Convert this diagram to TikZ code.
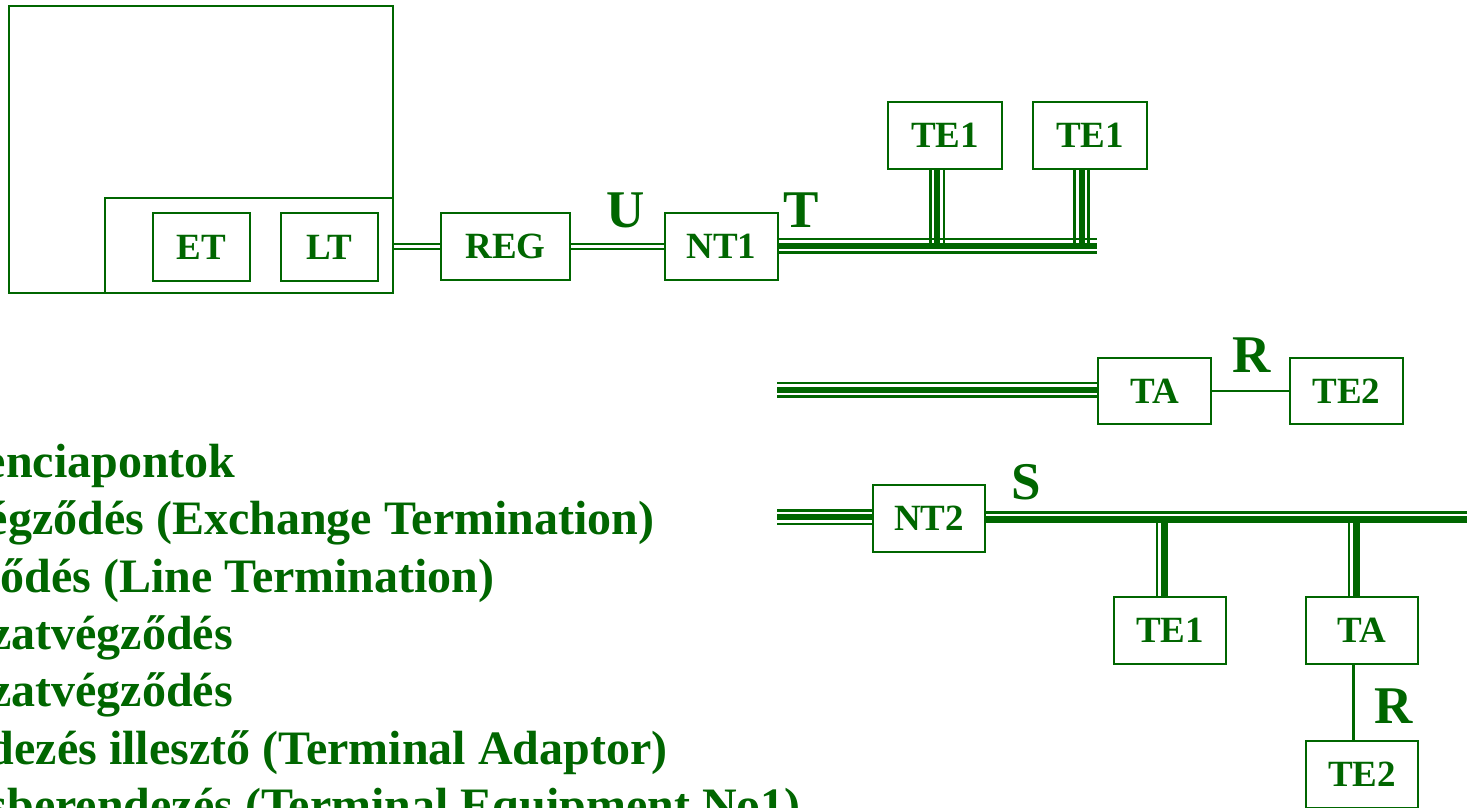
\documentclass[tikz,border=0pt]{standalone}
\usepackage{fontspec}
\setmainfont{Liberation Serif}
\definecolor{dg}{HTML}{006600}
\tikzset{
  box/.style={draw=dg, line width=2.9pt, inner sep=0pt, text=dg, font=\fontsize{37}{40}\selectfont\bfseries},
  frame/.style={draw=dg, line width=2.9pt, inner sep=0pt},
  big/.style={text=dg, inner sep=0pt, anchor=base, font=\fontsize{53}{56}\selectfont\bfseries},
  legend/.style={text=dg, inner sep=0pt, anchor=base east, font=\fontsize{48}{56}\selectfont\bfseries},
  thinl/.style={draw=dg, line width=2.7pt},
  thickl/.style={draw=dg, line width=6pt},
  fatl/.style={draw=dg, line width=7pt},
}
\newcommand\tripH[2]{%
  \draw[thinl] ([yshift=6.7pt]#1) -- ([yshift=6.7pt]#2);
  \draw[thickl] (#1) -- (#2);
  \draw[thinl] ([yshift=-6.7pt]#1) -- ([yshift=-6.7pt]#2);}
\newcommand\tripV[2]{%
  \draw[thinl] ([xshift=6.7pt]#1) -- ([xshift=6.7pt]#2);
  \draw[thickl] (#1) -- (#2);
  \draw[thinl] ([xshift=-6.7pt]#1) -- ([xshift=-6.7pt]#2);}
\begin{document}
\begin{tikzpicture}[x=1pt,y=-1pt]
\useasboundingbox (0,0) rectangle (1471,807);
\clip (0,0) rectangle (1471,807);

% exchange
\node[frame, minimum width=384pt, minimum height=287pt] (exch) at (201,149.5) {};
\node[frame, minimum width=288pt, minimum height=95pt] (inner) at (249,245.5) {};
\node[box, minimum width=97pt, minimum height=68pt] (ET) at (201.5,247) {ET};
\node[box, minimum width=97pt, minimum height=68pt] (LT) at (329.5,247) {LT};
\node[box, minimum width=129pt, minimum height=67pt] (REG) at (505.5,246.5) {REG};
\node[box, minimum width=113pt, minimum height=67pt] (NT1) at (721.5,246.5) {NT1};
\node[box, minimum width=114pt, minimum height=67pt] (TE1a) at (945,135.5) {TE1};
\node[box, minimum width=114pt, minimum height=67pt] (TE1b) at (1090,135.5) {TE1};
\node[box, minimum width=113pt, minimum height=66pt] (TAm) at (1154.5,391) {TA};
\node[box, minimum width=113pt, minimum height=66pt] (TE2m) at (1346.5,391) {TE2};
\node[box, minimum width=112pt, minimum height=67pt] (NT2) at (929,518.5) {NT2};
\node[box, minimum width=112pt, minimum height=67pt] (TE1s) at (1170,630.5) {TE1};
\node[box, minimum width=112pt, minimum height=67pt] (TAs) at (1362,630.5) {TA};
\node[box, minimum width=112pt, minimum height=67pt] (TE2s) at (1362,774.5) {TE2};

% labels
\node[big] (U) at (626,227) {U};
\node[big] (Tl) at (801.5,227) {T};
\node[big] (Rm) at (1252,372) {R};
\node[big] (S) at (1026.5,499) {S};
\node[big] (Rs) at (1394,723.5) {R};

% double lines exchange - REG - NT1
\coordinate (dl) at (0,246.5);
\draw[thinl] ([yshift=2.6pt]inner.east |- dl) -- ([yshift=2.6pt]REG.west |- dl);
\draw[thinl] ([yshift=-2.6pt]inner.east |- dl) -- ([yshift=-2.6pt]REG.west |- dl);
\draw[thinl] ([yshift=2.6pt]REG.east |- dl) -- ([yshift=2.6pt]NT1.west |- dl);
\draw[thinl] ([yshift=-2.6pt]REG.east |- dl) -- ([yshift=-2.6pt]NT1.west |- dl);

% T bus
\coordinate (tb) at (1097,245.8);
\coordinate (tb0) at (NT1.east |- tb);
\tripH{tb0}{tb}
\coordinate (d1t) at ([xshift=-7.7pt]TE1a.south);
\coordinate (d1b) at (d1t |- tb);
\tripV{d1t}{d1b}
\coordinate (d2t) at ([xshift=-8.5pt]TE1b.south);
\coordinate (d2b) at (d2t |- tb);
\tripV{d2t}{d2b}

% middle row
\coordinate (m0) at (777,389.6);
\coordinate (m1) at (TAm.west |- m0);
\tripH{m0}{m1}
\draw[thinl] (TAm.east) -- (TE2m.west);

% lower row
\coordinate (l0) at (777,517.3);
\coordinate (l1) at (NT2.west |- l0);
\tripH{l0}{l1}
\coordinate (sb) at (1467,519.5);
\coordinate (sb0) at (NT2.east |- sb);
\draw[fatl] (sb0) -- (sb);
\draw[thinl] ([yshift=7pt]sb0) -- ([yshift=7pt]sb);
\coordinate (q1) at ([xshift=-6pt]TE1s.north);
\coordinate (q1t) at (q1 |- sb);
\draw[fatl] (q1t) -- (q1);
\draw[thinl] ([xshift=-7pt]q1t) -- ([xshift=-7pt]q1);
\coordinate (q2) at ([xshift=-6pt]TAs.north);
\coordinate (q2t) at (q2 |- sb);
\draw[fatl] (q2t) -- (q2);
\draw[thinl] ([xshift=-7pt]q2t) -- ([xshift=-7pt]q2);
\coordinate (r1) at ([xshift=-8.5pt,yshift=2pt]TAs.south);
\coordinate (r2) at (r1 |- TE2s.north);
\draw[thinl] (r1) -- (r2);

% legend (cut at left edge, as in the reference)
\node[legend] (L1) at (235.6,477) {enciapontok};
\node[legend] (L2) at (654.5,534.5) {égződés (Exchange Termination)};
\node[legend] (L3) at (494.8,592) {ődés (Line Termination)};
\node[legend] (L4) at (233,649.3) {zatvégződés};
\node[legend] (L5) at (233,706.7) {zatvégződés};
\node[legend] (L6) at (667.5,764) {dezés illesztő (Terminal Adaptor)};
\node[legend] (L7) at (801,821.5) {sberendezés (Terminal Equipment No1)};
\end{tikzpicture}
\end{document}
